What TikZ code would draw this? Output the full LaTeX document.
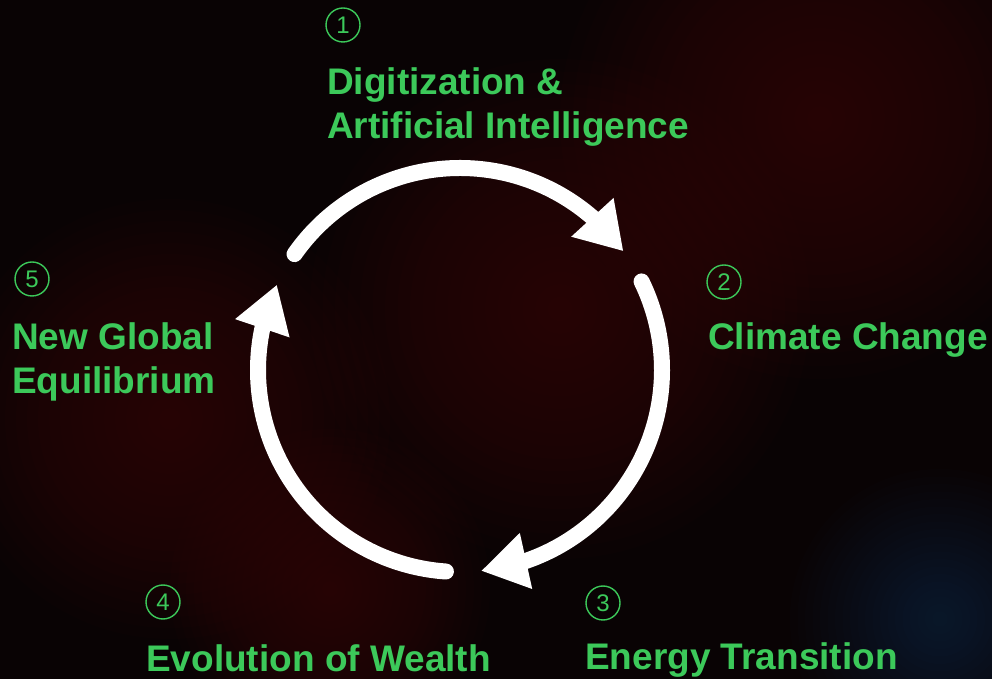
\documentclass[tikz,border=0pt]{standalone}
\usepackage{fontspec}
\setmainfont{Liberation Sans}
\usetikzlibrary{arrows.meta,bending}

\definecolor{cyclegreen}{RGB}{60,201,90}
\definecolor{bgdark}{RGB}{9,3,4}
\definecolor{bgred}{RGB}{110,28,16}
\definecolor{bgblue}{RGB}{40,70,120}

\tikzset{
  stage/.style={text=cyclegreen, font=\bfseries\fontsize{37}{44}\selectfont,
    anchor=base west, inner sep=0pt, align=left},
  stagenum/.style={circle, draw=cyclegreen, line width=1.4pt, minimum size=34pt,
    inner sep=0pt, text=cyclegreen, font=\fontsize{24}{24}\selectfont},
  cyclearrow/.style={white, line width=16pt, line cap=round,
    -{Triangle[length=46pt,width=54pt,flex]}},
}

\begin{document}
\begin{tikzpicture}[x=1pt,y=1pt]
  \useasboundingbox (0,0) rectangle (992,679);
  % dark backdrop with a few soft glows
  \begin{scope}
    \clip (0,0) rectangle (992,679);
    \fill[bgdark] (0,0) rectangle (992,679);
    \foreach \cx/\cy/\r/\c in {820/560/260/bgred, 560/370/250/bgred,
        170/260/220/bgred, 330/90/160/bgred, 940/60/150/bgblue} {
      \foreach \k in {1,...,20}
        \fill[\c, opacity=0.025] (\cx,\cy) circle ({\r*\k/20});
    }
  \end{scope}

  % the cycle
  \coordinate (centre) at (460,309);
  \draw[cyclearrow] ([shift={(145:202)}]centre) arc[start angle=145, end angle=36, radius=202];
  \draw[cyclearrow] ([shift={(26:202)}]centre) arc[start angle=26, end angle=-84, radius=202];
  \draw[cyclearrow] ([shift={(-94:202)}]centre) arc[start angle=-94, end angle=-205, radius=202];

  % stages (two-line nodes sit on their last baseline)
  \node[stagenum] (num1) at (343,654) {1};
  \node[stage] (digital) at (327,540) {Digitization \&\\Artificial Intelligence};

  \node[stagenum] (num2) at (724,397) {2};
  \node[stage] (climate) at (708,329) {Climate Change};

  \node[stagenum] (num3) at (603,76) {3};
  \node[stage] (energy) at (585,9) {Energy Transition};

  \node[stagenum] (num4) at (163,77) {4};
  \node[stage] (wealth) at (146,7) {Evolution of Wealth};

  \node[stagenum] (num5) at (32,400) {5};
  \node[stage] (balance) at (12,285) {New Global\\Equilibrium};
\end{tikzpicture}
\end{document}
